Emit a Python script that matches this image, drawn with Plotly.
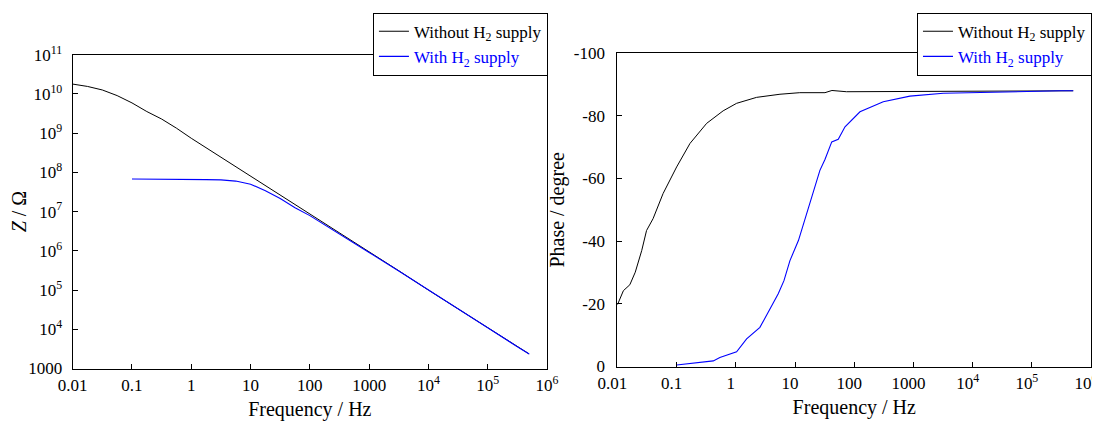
import plotly.graph_objects as go

# ---------------- data ----------------
freq_z_without = [0.01, 0.0178, 0.0316, 0.0562, 0.1, 0.178, 0.316, 0.562, 1, 3.16, 10, 31.6,
                  100, 316, 1000, 3162, 1e4, 31623, 1e5, 316228, 5e5]
z_without = [1.78e10, 1.55e10, 1.26e10, 9.06e9, 5.9e9, 3.55e9, 2.29e9, 1.34e9, 7.4e8, 2.45e8,
             7.9e7, 2.57e7, 8.5e6, 2.8e6, 9.3e5, 3.1e5, 1.0e5, 3.3e4, 1.1e4, 3.6e3, 2.35e3]

freq_z_with = [0.1, 0.178, 0.316, 0.562, 1, 1.78, 3.16, 5.62, 10, 17.8, 31.6, 56.2, 100, 316,
               1000, 3162, 1e4, 31623, 1e5, 316228, 5e5]
z_with = [6.76e7, 6.76e7, 6.8e7, 6.7e7, 6.6e7, 6.55e7, 6.45e7, 6.0e7, 5.0e7, 3.4e7, 2.15e7,
          1.26e7, 7.9e6, 2.75e6, 9.1e5, 3.05e5, 9.9e4, 3.28e4, 1.09e4, 3.6e3, 2.35e3]

freq_ph_without = [0.01, 0.0126, 0.0162, 0.02, 0.0257, 0.031, 0.040, 0.059, 0.1, 0.168, 0.321,
                   0.61, 1.03, 2.24, 5.56, 12, 32, 42, 74, 1000, 1e5, 5e5]
ph_without = [-19.7, -24.2, -26.1, -30.1, -37.0, -43.4, -47.2, -55.2, -63.7, -71.2, -77.6,
              -81.6, -84.0, -85.9, -86.9, -87.4, -87.4, -88.1, -87.7, -87.8, -87.9, -88.0]

freq_ph_with = [0.1, 0.416, 0.537, 1.03, 1.52, 2.55, 5.2, 6.5, 8.2, 11.4, 26.3, 32, 41.7, 53.7,
                69.8, 125, 309, 871, 3190, 22400, 302000, 5e5]
ph_with = [-0.5, -1.8, -2.9, -4.7, -8.8, -12.5, -23.2, -27.4, -33.8, -40.2, -62.6, -66.1, -71.7,
           -72.5, -76.5, -81.3, -84.5, -86.3, -87.2, -87.6, -88.0, -88.0]

x_tickvals = [0.01, 0.1, 1, 10, 100, 1000, 1e4, 1e5, 1e6]
x_ticktext = ["0.01", "0.1", "1", "10", "100", "1000", "10<sup>4</sup>", "10<sup>5</sup>", "10<sup>6</sup>"]
z_tickvals = [1e3, 1e4, 1e5, 1e6, 1e7, 1e8, 1e9, 1e10, 1e11]
z_ticktext = ["1000", "10<sup>4</sup>", "10<sup>5</sup>", "10<sup>6</sup>", "10<sup>7</sup>",
              "10<sup>8</sup>", "10<sup>9</sup>", "10<sup>10</sup>", "10<sup>11</sup>"]
ph_tickvals = [0, -20, -40, -60, -80, -100]
ph_ticktext = ["0", "-20", "-40", "-60", "-80", "-100"]

name_without = "Without H<sub>2</sub> supply"
name_with = '<span style="color:#0000ff">With H<sub>2</sub> supply</span>'

BLACK = "#000000"
BLUE = "#0000ff"
FONT = "Liberation Serif, Times New Roman, serif"

fig = go.Figure()
fig.add_trace(go.Scatter(x=freq_z_without, y=z_without, mode="lines", name=name_without,
                         line=dict(color=BLACK, width=1), xaxis="x", yaxis="y", legend="legend"))
fig.add_trace(go.Scatter(x=freq_z_with, y=z_with, mode="lines", name=name_with,
                         line=dict(color=BLUE, width=1.1), xaxis="x", yaxis="y", legend="legend"))
fig.add_trace(go.Scatter(x=freq_ph_without, y=ph_without, mode="lines", name=name_without,
                         line=dict(color=BLACK, width=1), xaxis="x2", yaxis="y2", legend="legend2"))
fig.add_trace(go.Scatter(x=freq_ph_with, y=ph_with, mode="lines", name=name_with,
                         line=dict(color=BLUE, width=1.1), xaxis="x2", yaxis="y2", legend="legend2"))

axis_common = dict(showgrid=False, zeroline=False, showline=True, linecolor="black", linewidth=1,
                   mirror=True, ticks="inside", ticklen=5, tickcolor="black", automargin=False,
                   ticklabeloverflow="allow",
                   tickfont=dict(family=FONT, size=17, color="black"))
title_font = dict(family=FONT, size=20, color="black")

fig.update_layout(
    width=1092, height=415,
    margin=dict(l=0, r=0, t=0, b=0, autoexpand=False),
    paper_bgcolor="white", plot_bgcolor="white",
    font=dict(family=FONT, color="black"),
    xaxis=dict(domain=[0.05925, 0.4936], type="log", range=[-2, 6], anchor="y",
               tickvals=x_tickvals, ticktext=x_ticktext, ticklabelstandoff=1,
               title=dict(text="Frequency / Hz", font=title_font, standoff=8),
               **axis_common),
    yaxis=dict(domain=[0.1313, 0.8875], type="log", range=[3, 11], anchor="x",
               tickvals=z_tickvals, ticktext=z_ticktext, ticklabelstandoff=6,
               title=dict(text="<i>Z</i> / Ω", font=title_font, standoff=6),
               **axis_common),
    xaxis2=dict(domain=[0.5581, 0.9918], type="log", range=[-2, 6], anchor="y2",
                tickvals=x_tickvals, ticktext=x_ticktext, ticklabelstandoff=1,
                ticklabelshift=-5,
                title=dict(text="Frequency / Hz", font=title_font, standoff=8),
                **axis_common),
    yaxis2=dict(domain=[0.1361, 0.8911], range=[0, -100], anchor="x2",
                tickvals=ph_tickvals, ticktext=ph_ticktext, ticklabelstandoff=8,
                title=dict(text="Phase / degree", font=title_font, standoff=3),
                **axis_common),
    legend=dict(x=0.3342, y=0.9887, xanchor="left", yanchor="top", bgcolor="white",
                bordercolor="black", borderwidth=1, font=dict(family=FONT, size=17, color="black"),
                tracegroupgap=0, itemwidth=30),
    legend2=dict(x=0.8324, y=0.9887, xanchor="left", yanchor="top", bgcolor="white",
                 bordercolor="black", borderwidth=1, font=dict(family=FONT, size=17, color="black"),
                 tracegroupgap=0, itemwidth=30),
)

fig.write_html("out.html")
